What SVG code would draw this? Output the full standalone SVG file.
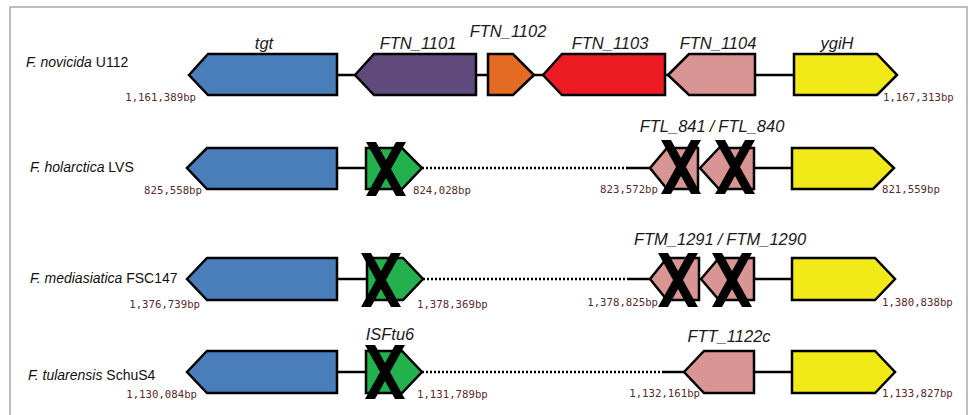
<svg xmlns="http://www.w3.org/2000/svg" xmlns:xlink="http://www.w3.org/1999/xlink" width="972" height="415" viewBox="0 0 972 415">
<style>
.g{stroke:#000;stroke-width:2.5;stroke-linejoin:miter}
.blue{fill:#4a7ebb}.purple{fill:#604a7b}.orange{fill:#e46c22}.red{fill:#ed1c24}.pink{fill:#d99594}.yellow{fill:#f2ea18}.green{fill:#22b14c}
.bb{stroke:#000;stroke-width:2.5;fill:none}
.dot{stroke:#000;stroke-width:2.5;fill:none;stroke-dasharray:2 2}
.gl{font-family:"Liberation Sans",Arial,sans-serif;font-style:italic;font-size:16.5px;fill:#1a1a1a;text-anchor:middle}
.sp{font-family:"Liberation Sans",Arial,sans-serif;font-size:14px;fill:#111}
.bp{font-family:"DejaVu Sans Mono","Liberation Mono",monospace;font-size:10.7px;fill:#5a2a2a}
.e{text-anchor:end}
</style>
<defs>
<g id="x">
<polygon points="0,0 10,0 40,54 30,54" fill="#000"/>
<polygon points="30,0 40,0 10,54 0,54" fill="#000"/>
</g>
</defs>
<rect x="10" y="7" width="957" height="420" fill="#fff" stroke="#a8a8a8" stroke-width="1.5"/>

<g id="connectors">
<line class="bb" x1="337" y1="75" x2="794" y2="75"/>
<line class="bb" x1="337" y1="168" x2="366" y2="168"/>
<line class="dot" x1="422" y1="168" x2="627" y2="168"/>
<line class="bb" x1="627" y1="168" x2="650" y2="168"/>
<line class="bb" x1="754" y1="168" x2="792" y2="168"/>
<line class="bb" x1="337" y1="279" x2="367" y2="279"/>
<line class="dot" x1="423" y1="279" x2="627" y2="279"/>
<line class="bb" x1="627" y1="279" x2="650" y2="279"/>
<line class="bb" x1="754" y1="279" x2="792" y2="279"/>
<line class="bb" x1="337" y1="372" x2="366" y2="372"/>
<line class="dot" x1="422" y1="372" x2="663" y2="372"/>
<line class="bb" x1="663" y1="372" x2="684" y2="372"/>
<line class="bb" x1="754" y1="372" x2="792" y2="372"/>
</g>

<!-- Row 1: F. novicida U112 -->
<g id="row1-label"><text class="sp" x="26" y="67"><tspan font-style="italic">F. novicida</tspan> U112</text></g>
<g id="r1-tgt"><polygon class="g blue" points="189,75 208,54 337,54 337,95 208,95"/><text class="gl" x="264" y="49">tgt</text></g>
<g id="r1-ftn1101"><polygon class="g purple" points="355,75 374,54 476,54 476,95 374,95"/><text class="gl" x="418" y="49">FTN_1101</text></g>
<g id="r1-ftn1102"><polygon class="g orange" points="488,54 513,54 534,75 513,95 488,95"/><text class="gl" x="508" y="37">FTN_1102</text></g>
<g id="r1-ftn1103"><polygon class="g red" points="543,75 562,54 665,54 665,95 562,95"/><text class="gl" x="610" y="49">FTN_1103</text></g>
<g id="r1-ftn1104"><polygon class="g pink" points="668,75 689,54 755,54 755,95 689,95"/><text class="gl" x="718" y="49">FTN_1104</text></g>
<g id="r1-ygiH"><polygon class="g yellow" points="794,54 877,54 897,75 877,95 794,95"/><text class="gl" x="837" y="49">ygiH</text></g>
<g id="r1-pos"><text class="bp e" x="196" y="101">1,161,389bp</text><text class="bp" x="883" y="101">1,167,313bp</text></g>

<!-- Row 2: F. holarctica LVS -->
<g id="row2-label"><text class="sp" x="30" y="172"><tspan font-style="italic">F. holarctica</tspan> LVS</text></g>
<g id="r2-tgt"><polygon class="g blue" points="187,168 207,148 337,148 337,189 207,189"/></g>
<g id="r2-green"><polygon class="g green" points="366,148 402,148 422,168 402,189 366,189"/><use xlink:href="#x" x="366" y="142"/></g>
<g id="r2-ftl841"><polygon class="g pink" points="650,168 667,148 698,148 698,189 667,189"/><use xlink:href="#x" x="661" y="140"/></g>
<g id="r2-ftl840"><polygon class="g pink" points="700,168 719,148 754,148 754,189 719,189"/><use xlink:href="#x" x="715" y="140"/></g>
<g id="r2-ygiH"><polygon class="g yellow" points="792,148 873,148 894,168 873,189 792,189"/></g>
<text class="gl" x="712" y="132">FTL_841<tspan dx="4">/</tspan><tspan dx="4">FTL_840</tspan></text>
<g id="r2-pos"><text class="bp e" x="202" y="194">825,558bp</text><text class="bp" x="413" y="194">824,028bp</text><text class="bp e" x="658" y="193">823,572bp</text><text class="bp" x="882" y="193">821,559bp</text></g>

<!-- Row 3: F. mediasiatica FSC147 -->
<g id="row3-label"><text class="sp" x="30" y="283"><tspan font-style="italic">F. mediasiatica</tspan> FSC147</text></g>
<g id="r3-tgt"><polygon class="g blue" points="187,279 207,258 337,258 337,300 207,300"/></g>
<g id="r3-green"><polygon class="g green" points="367,258 403,258 423,279 403,300 367,300"/><use xlink:href="#x" x="361" y="253"/></g>
<g id="r3-ftm1291"><polygon class="g pink" points="650,279 667,258 699,258 699,300 667,300"/><use xlink:href="#x" x="658" y="253"/></g>
<g id="r3-ftm1290"><polygon class="g pink" points="701,279 719,258 754,258 754,300 719,300"/><use xlink:href="#x" x="712" y="253"/></g>
<g id="r3-ygiH"><polygon class="g yellow" points="792,258 875,258 895,279 875,300 792,300"/></g>
<text class="gl" x="720" y="245">FTM_1291<tspan dx="4">/</tspan><tspan dx="4">FTM_1290</tspan></text>
<g id="r3-pos"><text class="bp e" x="200" y="308">1,376,739bp</text><text class="bp" x="417" y="308">1,378,369bp</text><text class="bp e" x="658" y="306">1,378,825bp</text><text class="bp" x="882" y="306">1,380,838bp</text></g>

<!-- Row 4: F. tularensis SchuS4 -->
<g id="row4-label"><text class="sp" x="28" y="380"><tspan font-style="italic">F. tularensis</tspan> SchuS4</text></g>
<g id="r4-tgt"><polygon class="g blue" points="187,372 207,351 337,351 337,393 207,393"/></g>
<g id="r4-isftu6"><polygon class="g green" points="366,351 402,351 422,372 402,393 366,393"/><use xlink:href="#x" x="365" y="345"/><text class="gl" x="390" y="340">ISFtu6</text></g>
<g id="r4-ftt1122c"><polygon class="g pink" points="684,372 704,351 754,351 754,393 704,393"/><text class="gl" x="729" y="342">FTT_1122c</text></g>
<g id="r4-ygiH"><polygon class="g yellow" points="792,351 875,351 895,372 875,393 792,393"/></g>
<g id="r4-pos"><text class="bp e" x="197" y="398">1,130,084bp</text><text class="bp" x="417" y="398">1,131,789bp</text><text class="bp e" x="700" y="397">1,132,161bp</text><text class="bp" x="882" y="397">1,133,827bp</text></g>
</svg>
